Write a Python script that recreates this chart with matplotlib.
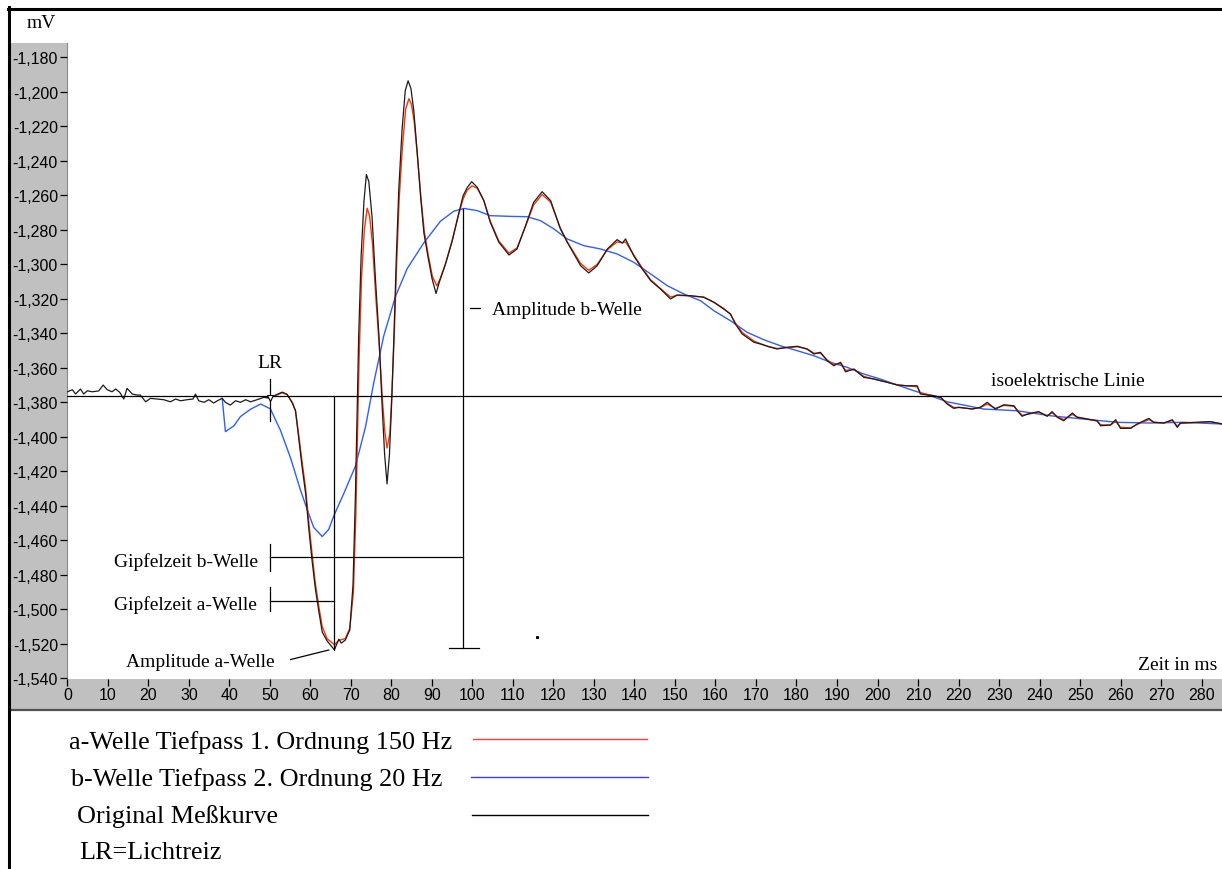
import numpy as np
import matplotlib
matplotlib.use("Agg")
import matplotlib.pyplot as plt
from matplotlib.lines import Line2D
from matplotlib.patches import Rectangle
from matplotlib.ticker import FuncFormatter

# ---------------- data (time in ms, potential in mV) ----------------
t_orig = [0.0, 1.2, 2.0, 3.2, 4.0, 4.9, 6.1, 7.7, 8.8, 9.8, 11.0, 11.9, 12.9, 13.9, 14.7,
          16.0, 17.2, 18.0, 19.3, 20.5, 22.1, 23.8, 25.4, 26.7, 27.9, 29.5, 31.0, 31.6,
          32.4, 33.7, 34.9, 36.1, 37.0, 38.2, 39.0, 40.2, 41.5, 42.7, 44.0, 45.2, 46.8,
          48.5, 50.0, 51.4, 53.0, 54.2, 55.5, 56.3, 57.1, 57.9, 58.8, 59.6, 60.4, 61.2,
          62.1, 62.9, 64.1, 65.9, 67.0, 67.6, 68.6, 69.7, 70.5, 71.1, 71.5, 71.9, 72.5,
          73.2, 73.8, 74.4, 75.2, 76.0, 76.9, 77.7, 78.3, 78.9, 79.5, 80.0, 80.6, 81.2,
          81.8, 82.6, 83.4, 84.1, 84.8, 85.5, 86.3, 87.2, 88.0, 89.0, 90.0, 91.0, 91.8,
          93.3, 95.0, 96.6, 97.7, 98.7, 99.8, 101.2, 102.8, 104.4, 106.5, 109.0, 111.0,
          113.1, 115.1, 117.2, 119.3, 121.7, 123.4, 126.7, 128.7, 130.8, 133.3, 135.7,
          137.0, 137.8, 139.8, 141.9, 144.0, 146.4, 148.9, 150.5, 153.8, 157.1, 158.8,
          159.6, 162.0, 163.7, 164.9, 166.6, 169.5, 171.1, 172.8, 175.2, 177.7, 180.2,
          182.6, 184.3, 185.9, 187.6, 189.2, 190.9, 192.1, 194.2, 196.6, 199.1, 202.4,
          204.9, 207.3, 209.8, 210.6, 213.9, 215.6, 217.2, 218.8, 220.1, 223.4, 225.4,
          227.1, 229.1, 231.2, 233.7, 234.5, 235.7, 237.0, 239.8, 241.9, 243.1, 244.4,
          246.0, 248.1, 249.3, 251.8, 254.2, 255.1, 257.5, 258.8, 260.0, 262.5, 264.1,
          267.0, 268.2, 270.7, 272.8, 274.0, 274.8, 282.2, 285.2]
v_orig = [-1373.9, -1372.7, -1375.2, -1372.3, -1375.2, -1373.3, -1373.9, -1373.4, -1370.0,
          -1372.7, -1373.9, -1372.3, -1374.2, -1378.1, -1371.9, -1375.2, -1375.8, -1375.8,
          -1379.7, -1377.7, -1378.1, -1378.5, -1379.7, -1378.1, -1379.1, -1378.5, -1378.1,
          -1375.2, -1379.1, -1380.0, -1378.5, -1380.4, -1379.1, -1377.7, -1380.0, -1381.6,
          -1379.1, -1380.0, -1378.5, -1379.7, -1378.5, -1377.1, -1377.5, -1375.8, -1374.1,
          -1375.3, -1380.3, -1384.9, -1400.9, -1416.9, -1433.0, -1453.7, -1472.0, -1488.0,
          -1501.8, -1513.2, -1518.3, -1523.5, -1517.3, -1519.6, -1517.8, -1512.0, -1485.7,
          -1433.0, -1387.2, -1341.4, -1295.5, -1263.5, -1247.9, -1252.0, -1272.6, -1307.0,
          -1341.4, -1382.6, -1410.1, -1427.3, -1410.1, -1382.6, -1341.4, -1295.5, -1256.6,
          -1222.2, -1199.3, -1193.6, -1198.1, -1210.8, -1233.7, -1261.2, -1281.8, -1295.5,
          -1308.2, -1316.9, -1310.4, -1300.1, -1286.4, -1270.4, -1260.1, -1255.5, -1252.1,
          -1255.4, -1263.1, -1275.7, -1287.2, -1294.6, -1291.1, -1277.6, -1264.1, -1257.9,
          -1263.1, -1279.5, -1287.2, -1300.8, -1305.0, -1300.8, -1291.1, -1285.7, -1287.7,
          -1285.3, -1295.0, -1302.7, -1309.5, -1314.3, -1320.1, -1317.8, -1318.2, -1319.1,
          -1321.1, -1322.0, -1325.9, -1328.8, -1334.6, -1340.4, -1345.2, -1346.2, -1347.5,
          -1349.1, -1348.1, -1347.5, -1349.1, -1352.0, -1351.0, -1355.9, -1358.8, -1356.8,
          -1362.3, -1360.7, -1365.5, -1366.5, -1368.4, -1370.0, -1370.4, -1370.4, -1375.2,
          -1376.2, -1377.1, -1381.0, -1383.5, -1382.9, -1383.9, -1382.9, -1380.0, -1383.9,
          -1381.4, -1382.0, -1384.9, -1388.1, -1386.8, -1385.4, -1388.1, -1385.4, -1388.7,
          -1390.7, -1386.2, -1388.7, -1389.7, -1390.7, -1393.6, -1393.2, -1390.1, -1395.1,
          -1395.1, -1392.6, -1389.3, -1391.6, -1392.0, -1390.1, -1394.5, -1392.0, -1391.2,
          -1392.6]

# a-wave: first order low pass, 150 Hz
t_a = [48.5, 50.0, 51.4, 53.0, 54.2, 55.5, 56.3, 57.1, 57.9, 58.8, 59.6, 60.4, 61.2, 62.1,
       62.9, 64.1, 65.9, 67.0, 68.6, 69.7, 70.6, 71.2, 71.6, 72.0, 72.6, 73.3, 74.0, 74.6,
       75.3, 76.1, 77.0, 77.8, 78.4, 78.9, 79.6, 80.1, 80.7, 81.3, 81.9, 82.7, 83.5, 84.3,
       84.9, 85.6, 86.4, 87.3, 88.1, 89.1, 90.1, 91.2, 91.9, 93.3, 95.0, 96.6, 97.7, 98.7,
       99.9, 101.2, 102.8, 104.4, 106.5, 109.0, 111.0, 113.1, 115.1, 117.2, 119.3, 121.7,
       123.4, 126.7, 128.7, 130.8, 133.3, 135.7, 137.0, 137.8, 139.8, 141.9, 144.0, 146.4,
       148.9, 150.5, 153.8, 157.1, 158.8, 159.6, 162.0, 163.7, 164.9, 166.6, 169.5, 171.1,
       172.8, 175.2, 177.7, 180.2, 182.6, 184.3, 185.9, 187.6, 189.2, 190.9, 192.1, 194.2,
       196.6, 199.1, 202.4, 204.9, 207.3, 209.8, 210.6, 213.9, 215.6, 217.2, 218.8, 220.1,
       223.4, 225.4, 227.1, 229.1, 231.2, 233.7, 234.5, 235.7, 237.0, 239.8, 241.9, 243.1,
       244.4, 246.0, 248.1, 249.3, 251.8, 254.2, 255.1, 257.5, 258.8, 260.0, 262.5, 264.1,
       267.0, 268.2, 270.7, 272.8, 274.0, 274.8, 282.2, 285.2]
v_a = [-1377.1, -1377.5, -1376.0, -1374.5, -1375.5, -1380.0, -1385.0, -1399.0, -1414.0,
       -1430.0, -1450.0, -1468.0, -1485.0, -1499.0, -1510.0, -1517.0, -1520.5, -1518.0,
       -1517.0, -1511.0, -1490.0, -1445.0, -1400.0, -1355.0, -1308.0, -1280.0, -1267.5,
       -1272.0, -1288.0, -1318.0, -1348.0, -1380.0, -1398.0, -1406.5, -1398.0, -1375.0,
       -1340.0, -1298.0, -1262.0, -1232.0, -1210.0, -1204.0, -1207.0, -1217.0, -1237.0,
       -1262.0, -1281.0, -1295.0, -1307.0, -1312.5, -1309.0, -1300.0, -1286.0, -1271.0,
       -1262.0, -1257.0, -1254.5, -1256.0, -1263.0, -1275.0, -1286.5, -1293.5, -1290.5,
       -1278.0, -1265.5, -1259.5, -1264.0, -1279.0, -1287.0, -1299.5, -1303.5, -1300.0,
       -1291.5, -1287.0, -1287.5, -1287.0, -1294.5, -1302.0, -1309.0, -1314.0, -1319.0,
       -1318.0, -1318.3, -1319.0, -1321.0, -1322.0, -1325.5, -1329.0, -1334.0, -1339.5,
       -1344.5, -1346.0, -1347.5, -1348.8, -1348.3, -1347.8, -1349.0, -1351.5, -1351.5,
       -1355.5, -1358.0, -1357.5, -1361.5, -1361.0, -1365.0, -1366.5, -1368.4, -1369.8,
       -1370.5, -1371.0, -1374.5, -1376.2, -1377.3, -1380.5, -1383.0, -1383.0, -1383.8,
       -1383.0, -1381.0, -1383.5, -1381.8, -1382.3, -1384.5, -1387.5, -1387.0, -1385.6,
       -1387.8, -1386.0, -1388.4, -1390.0, -1387.0, -1388.5, -1389.7, -1390.8, -1393.0,
       -1393.2, -1391.0, -1394.5, -1394.8, -1392.8, -1390.0, -1391.5, -1392.0, -1390.5,
       -1393.8, -1392.2, -1391.3, -1392.6]

# b-wave: second order low pass, 20 Hz
t_b = [38.2, 39.0, 41.1, 42.7, 45.2, 47.7, 50.1, 52.6, 55.1, 57.5, 59.2, 60.8, 62.9, 64.5,
       65.8, 68.2, 71.1, 73.6, 75.6, 78.1, 81.0, 83.9, 88.0, 92.1, 95.4, 97.9, 101.2, 104.4,
       109.4, 113.5, 116.8, 120.1, 123.4, 127.5, 131.6, 135.7, 139.8, 144.0, 148.1, 152.2,
       156.3, 159.6, 163.7, 167.8, 171.9, 176.0, 180.2, 184.3, 188.4, 192.5, 196.6, 200.7,
       204.9, 209.0, 213.1, 217.2, 221.3, 226.2, 234.5, 242.7, 250.9, 259.2, 267.4, 275.6,
       285.2]
v_b = [-1377.7, -1397.0, -1393.6, -1388.3, -1384.0, -1381.0, -1383.8, -1396.3, -1412.4,
       -1430.7, -1442.2, -1452.5, -1457.8, -1453.7, -1445.6, -1433.0, -1417.0, -1394.1,
       -1368.9, -1341.4, -1318.5, -1302.4, -1287.5, -1275.0, -1269.2, -1267.6, -1268.9,
       -1271.8, -1272.2, -1272.4, -1274.7, -1279.5, -1285.3, -1289.2, -1291.1, -1294.0,
       -1298.8, -1305.6, -1312.4, -1317.2, -1321.1, -1326.9, -1332.7, -1339.4, -1343.7,
       -1347.2, -1350.1, -1353.0, -1356.8, -1359.7, -1363.6, -1366.5, -1370.0, -1373.3,
       -1376.2, -1379.7, -1381.6, -1383.9, -1384.9, -1387.8, -1389.7, -1391.6, -1392.0,
       -1391.6, -1392.6]

x_ticks = list(range(0, 281, 10))
y_ticks = list(range(-1540, -1179, 20))

# reference levels and times used by the measurement markings
v_iso = -1376.5          # isoelectric line
t_lr = 50.0              # light stimulus
v_lr = -1377.5
t_a_peak = 65.8          # a-wave minimum
v_a_peak = -1523.5
t_b_peak = 97.7          # b-wave maximum (filtered curve)
v_b_peak = -1267.7

# ---------------- figure layout ----------------
W, H = 1222, 870
fig = plt.figure(figsize=(W / 100, H / 100), dpi=100)
fig.patch.set_facecolor("white")


def fx(px):
    return px / W


def fy(py):
    return 1 - py / H


SERIF = ["Liberation Serif", "DejaVu Serif"]
NARROW = ["Liberation Sans Narrow", "Liberation Sans", "DejaVu Sans"]
panel = "#c0c0c0"

# gray scale panels
fig.add_artist(Rectangle((fx(10), fy(680)), fx(67) - fx(10), fy(44) - fy(680),
                         transform=fig.transFigure, facecolor=panel, edgecolor="none", zorder=-2))
fig.add_artist(Rectangle((fx(10), fy(710)), 1 - fx(10), fy(680) - fy(710),
                         transform=fig.transFigure, facecolor=panel, edgecolor="none", zorder=-2))
fig.add_artist(Line2D([fx(66.5), fx(66.5)], [fy(44), fy(680)], transform=fig.transFigure,
                      color="#8a8a8a", lw=0.8, zorder=-1))
fig.add_artist(Line2D([fx(10), 1], [fy(710.5), fy(710.5)], transform=fig.transFigure,
                      color="#505050", lw=1.6, zorder=-1))
# outer frame
fig.add_artist(Line2D([fx(9), fx(9)], [fy(8), 0], transform=fig.transFigure,
                      color="black", lw=2.2, zorder=5))
fig.add_artist(Line2D([fx(8), 1], [fy(9.5), fy(9.5)], transform=fig.transFigure,
                      color="black", lw=2.2, zorder=5))

ax = fig.add_axes([fx(67), fy(680), 1 - fx(67), fy(44) - fy(680)])
ax.patch.set_alpha(0)
for s in ax.spines.values():
    s.set_visible(False)

ax.set_xlim(-0.12, 285.06)
ax.set_ylim(-1540.4, -1171.7)
ax.set_xticks(x_ticks)
ax.set_yticks(y_ticks)
ax.yaxis.set_major_formatter(FuncFormatter(lambda v, p: f"{v:,.0f}"))
ax.tick_params(axis="x", direction="out", length=5, width=0.9, pad=0.5, labelsize=11.5,
               colors="black")
ax.tick_params(axis="y", direction="out", length=5, width=0.9, pad=1.5, labelsize=11.5,
               colors="black")
for lab in ax.get_xticklabels() + ax.get_yticklabels():
    lab.set_family(NARROW)

# ---------------- curves ----------------
ax.plot(t_b, v_b, color="#2b5fff", lw=1.0, zorder=3)
ax.plot(t_a, v_a, color="#ff3300", lw=1.0, zorder=4)
ax.plot(t_orig, v_orig, color="#1c1c1c", lw=0.9, zorder=5)

# ---------------- measurement markings ----------------
mk = dict(color="black", lw=0.9, zorder=6)
ax.axhline(v_iso, **mk)
ax.plot([t_a_peak, t_a_peak], [v_iso, v_a_peak], **mk)
ax.plot([t_b_peak, t_b_peak], [v_b_peak, v_a_peak + 0.8], **mk)
ax.plot([t_b_peak - 3.4, t_b_peak + 3.9], [v_a_peak + 0.8, v_a_peak + 0.8], **mk)
# light stimulus marker
ax.plot([t_lr, t_lr], [-1366.4, -1390.7], **mk)
ax.plot([t_lr], [v_lr], marker="v", ms=5, mfc="white", mec="black", mew=0.8, zorder=7)
# peak times
v_gb = -1469.6
v_ga = -1495.0
ax.plot([t_lr, t_b_peak], [v_gb, v_gb], **mk)
ax.plot([t_lr, t_lr], [-1462.2, -1477.9], **mk)
ax.plot([t_lr, t_a_peak], [v_ga, v_ga], **mk)
ax.plot([t_lr, t_lr], [-1487.1, -1501.0], **mk)
# a-wave amplitude pointer
ax.plot([55.1, 64.5], [-1529.1, -1523.6], **mk)
# b-wave amplitude dash
ax.plot([99.4, 101.9], [-1325.5, -1325.5], **mk)
# small stray dot
ax.plot([116.0], [-1516.2], marker="s", ms=1.2, color="black", zorder=6)

tx = dict(family=SERIF, fontsize=14, color="black", va="baseline", zorder=8)
ax.text(t_lr, -1359.7, "LR", ha="center", **tx)
ax.text(47.1, -1474.7, "Gipfelzeit b-Welle", ha="right", **tx)
ax.text(46.8, -1499.8, "Gipfelzeit a-Welle", ha="right", **tx)
ax.text(32.7, -1532.7, "Amplitude a-Welle", ha="center", **tx)
ax.text(104.7, -1328.8, "Amplitude b-Welle", ha="left", **tx)
ax.text(247.0, -1370.0, "isoelektrische Linie", ha="center", **tx)
ax.text(283.8, -1534.6, "Zeit in ms", ha="right", **tx)

fig.text(fx(41), fy(28.3), "mV", ha="center", va="baseline", family=SERIF, fontsize=14)

# ---------------- legend block ----------------
leg_rows = [
    ("a-Welle Tiefpass 1. Ordnung 150 Hz", 69, 749.3, "#ff3b3b", 473, 647, 740.0),
    ("b-Welle Tiefpass 2. Ordnung 20 Hz", 71.4, 786.3, "#3a3aff", 471, 648, 777.7),
    ("Original Meßkurve", 76.8, 822.7, "black", 472, 648, 815.7),
    ("LR=Lichtreiz", 79.5, 859.3, None, 0, 0, 0),
]
for label, x0, base, col, l0, l1, ly in leg_rows:
    fig.text(fx(x0), fy(base), label, ha="left", va="baseline", family=SERIF, fontsize=18.8)
    if col is not None:
        fig.add_artist(Line2D([fx(l0), fx(l1)], [fy(ly), fy(ly)], transform=fig.transFigure,
                              color=col, lw=1.0))

fig.savefig("out.png", dpi=100)
